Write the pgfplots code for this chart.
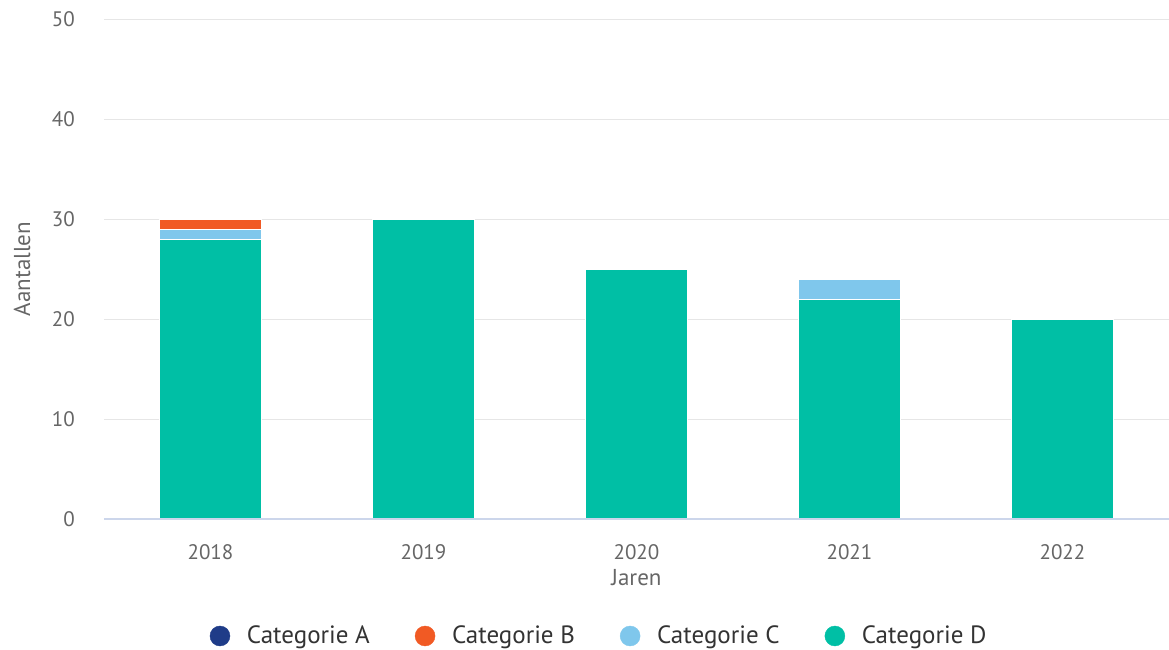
\documentclass[border=0pt]{standalone}
\usepackage{pgfplots}
\pgfplotsset{compat=1.18}
\usepackage{fontspec}
\setmainfont{PT Sans}
\definecolor{cA}{HTML}{1F3C88}
\definecolor{cB}{HTML}{F15A24}
\definecolor{cC}{HTML}{7FC7EC}
\definecolor{cD}{HTML}{00BFA5}
\definecolor{gridc}{HTML}{E6E6E6}
\definecolor{axisline}{HTML}{CCD6EB}
\definecolor{ticktext}{HTML}{666666}
\definecolor{legtext}{HTML}{333333}
\begin{document}
\fontsize{20bp}{24bp}\selectfont
\begin{tikzpicture}
\useasboundingbox (-104bp,-131bp) rectangle (1065bp,519bp);
\begin{axis}[
  at={(0,0)}, anchor=south west,
  scale only axis, width=1065bp, height=500bp,
  ybar stacked, bar width=102bp,
  xmin=-0.5, xmax=4.5, ymin=0, ymax=50,
  xtick={0,1,2,3,4}, xticklabels={2018,2019,2020,2021,2022},
  ytick={0,10,20,30,40,50},
  /pgf/number format/assume math mode=true,
  ymajorgrids, grid style={gridc, line width=1bp},
  axis line style={draw=none},
  major tick length=0pt,
  tick label style={ticktext, font=\fontsize{21bp}{25bp}\selectfont},
  yticklabel style={anchor=east, inner sep=0pt, xshift=-29bp},
  xticklabel style={anchor=north, inner sep=0pt, yshift=-25bp},
  xlabel={Jaren}, ylabel={Aantallen},
  label style={ticktext, font=\fontsize{23bp}{27bp}\selectfont},
  xlabel style={at={(axis description cs:0.5,0)}, anchor=north, inner sep=0pt, yshift=-50bp},
  ylabel style={at={(axis description cs:-0.077,0.5)}, anchor=center, inner sep=0pt},
  legend columns=4,
  legend style={at={(axis description cs:0.464,-0.234)}, anchor=center, draw=none, fill=none,
    font=\fontsize{25bp}{29bp}\selectfont, text=legtext,
    nodes={inner sep=0pt},
    /tikz/every even column/.append style={column sep=45bp}},
  clip=false,
]
\draw[axisline, line width=2bp] (rel axis cs:0,0) -- (rel axis cs:1,0);
\addlegendimage{legend image code/.code={\fill[cA] (10bp,0) circle (10bp); \path[draw=none] (0,0) -- (37bp,0);}}
\addlegendentry{Categorie A}
\addlegendimage{legend image code/.code={\fill[cB] (10bp,0) circle (10bp); \path[draw=none] (0,0) -- (37bp,0);}}
\addlegendentry{Categorie B}
\addlegendimage{legend image code/.code={\fill[cC] (10bp,0) circle (10bp); \path[draw=none] (0,0) -- (37bp,0);}}
\addlegendentry{Categorie C}
\addlegendimage{legend image code/.code={\fill[cD] (10bp,0) circle (10bp); \path[draw=none] (0,0) -- (37bp,0);}}
\addlegendentry{Categorie D}
\addplot[fill=cD, draw=white, line width=1bp, forget plot] coordinates {(0,28) (1,30) (2,25) (3,22) (4,20)};
\addplot[fill=cC, draw=white, line width=1bp, forget plot] coordinates {(0,1) (1,0) (2,0) (3,2) (4,0)};
\addplot[fill=cB, draw=white, line width=1bp, forget plot] coordinates {(0,1) (1,0) (2,0) (3,0) (4,0)};
\addplot[fill=cA, draw=white, line width=1bp, forget plot] coordinates {(0,0) (1,0) (2,0) (3,0) (4,0)};
\end{axis}
\end{tikzpicture}
\end{document}
